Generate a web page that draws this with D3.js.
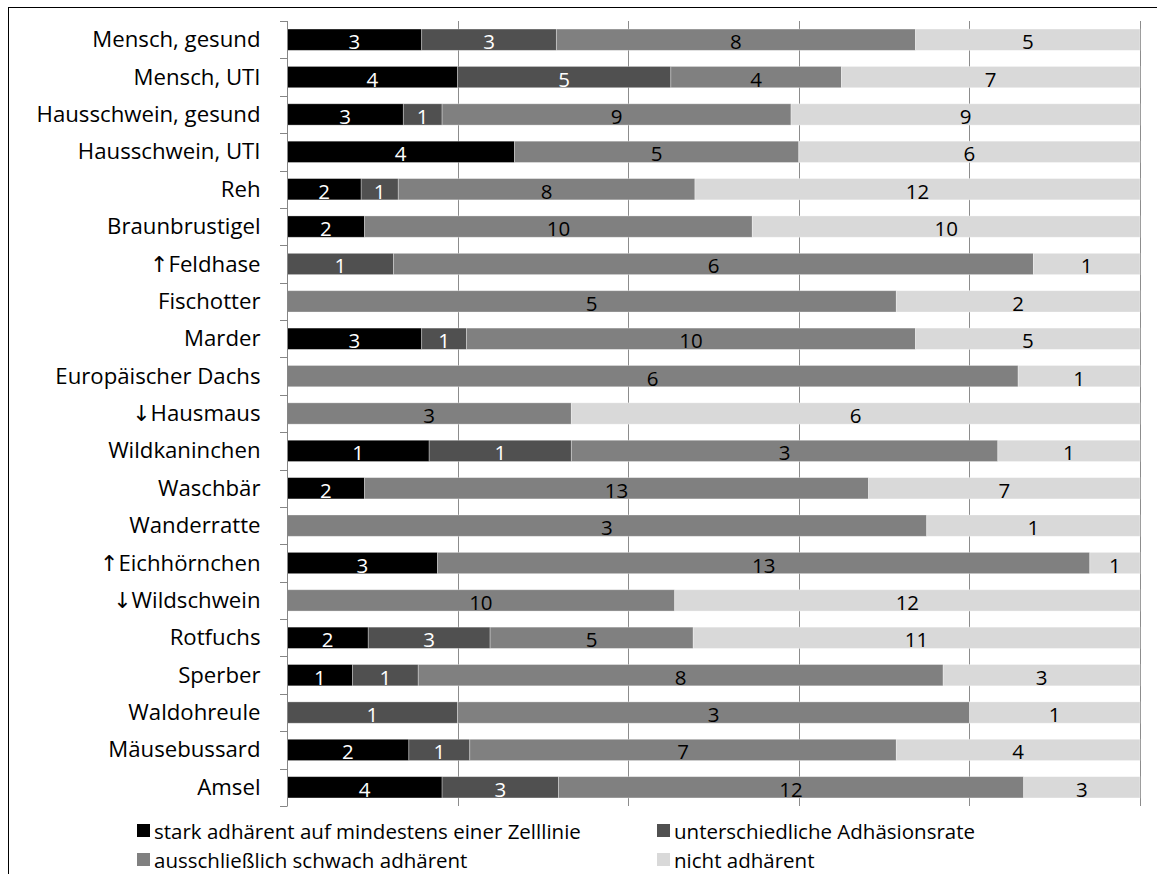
<!DOCTYPE html>
<html><head><meta charset="utf-8">
<script src="https://cdn.jsdelivr.net/npm/d3@7"></script>
<style>body{margin:0;background:#fff}svg{display:block}text{font-family:"Open Sans",sans-serif}</style>
</head><body>
<svg id="c" width="1157" height="874"></svg>
<script>
const categories = ["Mensch, gesund","Mensch, UTI","Hausschwein, gesund","Hausschwein, UTI","Reh","Braunbrustigel","↑Feldhase","Fischotter","Marder","Europäischer Dachs","↓Hausmaus","Wildkaninchen","Waschbär","Wanderratte","↑Eichhörnchen","↓Wildschwein","Rotfuchs","Sperber","Waldohreule","Mäusebussard","Amsel"];
const seriesNames = ["stark adhärent auf mindestens einer Zelllinie","unterschiedliche Adhäsionsrate","ausschließlich schwach adhärent","nicht adhärent"];
const stark =          [3,4,3,4,2,2,0,0,3,0,0,1,2,0,3,0,2,1,0,2,4];
const unterschiedlich =[3,5,1,0,1,0,1,0,1,0,0,1,0,0,0,0,3,1,1,1,3];
const schwach =        [8,4,9,5,8,10,6,5,10,6,3,3,13,3,13,10,5,8,3,7,12];
const nicht =          [5,7,9,6,12,10,1,2,5,1,6,1,7,1,1,12,11,3,1,4,3];
const colors = ["#000000","#505050","#808080","#d9d9d9"];
const labelColors = ["#ffffff","#ffffff","#000000","#000000"];
const xTicks = [0,0.2,0.4,0.6,0.8,1];

const series = [stark, unterschiedlich, schwach, nicht];
const rows = categories.map((c,i)=>{
  const vals = series.map(s=>s[i]);
  const tot = d3.sum(vals);
  let acc = 0;
  return {cat:c, segs: vals.map((v,k)=>{const s={k,v,x0:acc/tot,x1:(acc+v)/tot};acc+=v;return s;})};
});

const svg = d3.select("#c");
svg.append("rect").attr("x",8.5).attr("y",7.5).attr("width",1300).attr("height",1000)
  .attr("fill","none").attr("stroke","#000").attr("stroke-width",1);

const L=287, R=1140, T=21, B=806;
const x = d3.scaleLinear().domain([0,1]).range([L,R]);
const y = d3.scaleBand().domain(categories).range([T,B]).paddingInner(0.43).paddingOuter(0.215);

// gridlines
svg.append("g").selectAll("line").data(xTicks.slice(1)).join("line")
  .attr("x1",d=>Math.round(x(d))+0.5).attr("x2",d=>Math.round(x(d))+0.5)
  .attr("y1",T).attr("y2",B).attr("stroke","#8c8c8c").attr("stroke-width",1);

// bars
const g = svg.append("g");
rows.forEach(r=>{
  const segs = r.segs.filter(s=>s.v>0);
  g.selectAll(null).data(segs).join("rect")
    .attr("x",s=>x(s.x0)).attr("width",s=>x(s.x1)-x(s.x0))
    .attr("y",y(r.cat)).attr("height",y.bandwidth())
    .attr("fill",s=>colors[s.k]).attr("stroke","#ffffff").attr("stroke-opacity",0.4).attr("stroke-width",0.8);
  g.selectAll(null).data(segs).join("text")
    .attr("x",s=>(x(s.x0)+x(s.x1))/2).attr("y",y(r.cat)+y.bandwidth()/2+1.5)
    .attr("text-anchor","middle").attr("dominant-baseline","central")
    .attr("font-size",20.5).attr("fill",s=>labelColors[s.k]).text(s=>s.v);
});

// y axis
const ax = svg.append("g").attr("transform",`translate(${L+0.5},0)`)
  .call(d3.axisLeft(y).tickSize(0).tickPadding(27));
ax.select(".domain").attr("stroke","#868686").attr("d",`M0,${T}V${B}`);
ax.selectAll("text").attr("font-size",22.2).attr("fill","#000").attr("dy","0.34em")
  .each(function(d){
    const t = d3.select(this);
    if (/^[↑↓]/.test(d)) {
      t.text(null);
      t.append("tspan").attr("font-family","'DejaVu Sans',sans-serif").attr("font-size",22).text(d[0]);
      t.append("tspan").text(d.slice(1));
    }
  });
// boundary ticks
const bounds = d3.range(categories.length+1).map(i=>T+i*(B-T)/categories.length);
svg.append("g").selectAll("line").data(bounds).join("line")
  .attr("x1",L-7).attr("x2",L+0.5).attr("y1",d=>Math.round(d)+0.5).attr("y2",d=>Math.round(d)+0.5)
  .attr("stroke","#868686");

// legend
const legPos = [[137,830],[657,830],[137,859],[657,859]];
const lg = svg.append("g");
seriesNames.forEach((n,i)=>{
  const [lx,ly]=legPos[i];
  lg.append("rect").attr("x",lx).attr("y",ly-6).attr("width",13).attr("height",13).attr("fill",colors[i]);
  lg.append("text").attr("x",lx+17).attr("y",ly+1).attr("dominant-baseline","central")
    .attr("font-size",20.5).attr("fill","#000").text(n);
});
</script>
</body></html>
